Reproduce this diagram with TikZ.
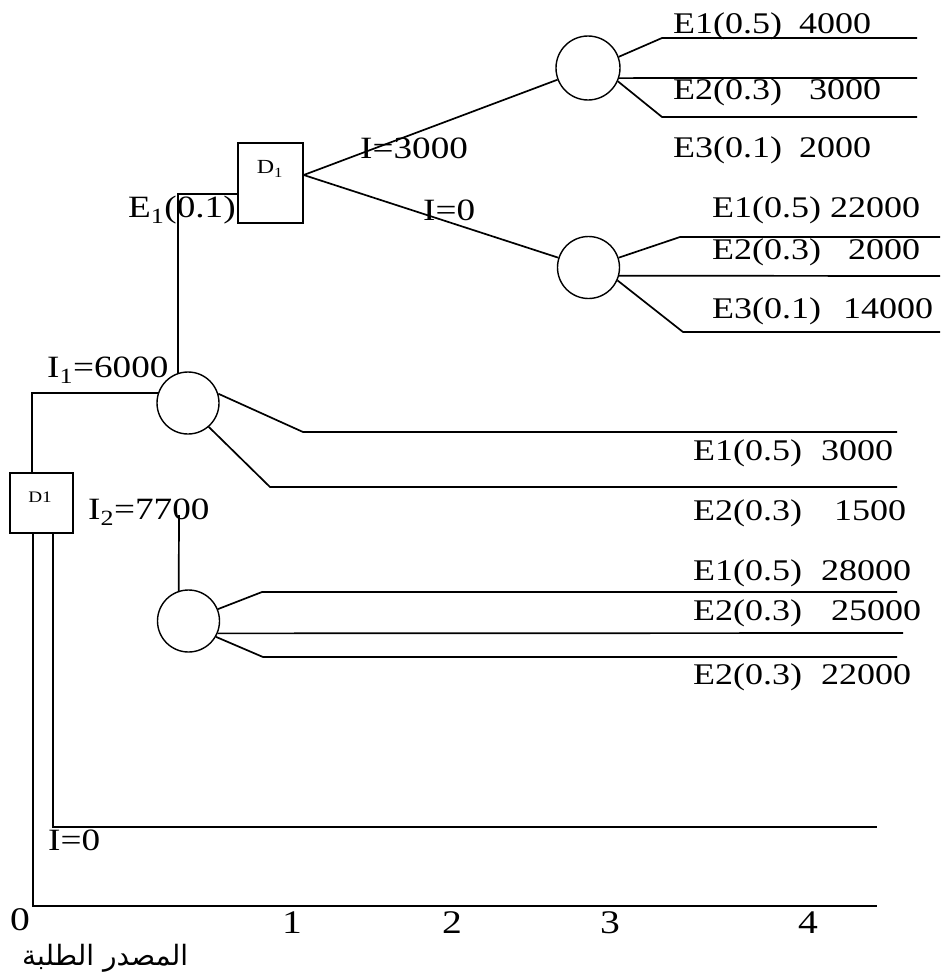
\documentclass[tikz,border=0pt]{standalone}
\usepackage{fontspec}
\setmainfont{Liberation Serif}[FakeStretch=1.2]
\newfontfamily\arabicfont[Script=Arabic]{DejaVu Sans}
\TeXXeTstate=1
\begin{document}
\begin{tikzpicture}[x=1pt,y=-1pt,
  ln/.style={line width=1.7pt},
  chance/.style={circle,draw,line width=1.4pt,minimum size=62pt,inner sep=0pt},
  decis/.style={rectangle,draw,line width=1.4pt,inner sep=0pt},
  lab/.style={inner sep=0pt,anchor=west,font=\fontsize{30}{30}\selectfont},
  ilab/.style={inner sep=0pt,anchor=west,font=\fontsize{31}{31}\selectfont},
  tick/.style={inner sep=0pt,font=\fontsize{33}{33}\selectfont},
]
\useasboundingbox (0,0) rectangle (940,977);

% decision nodes
\node[decis,minimum width=63pt,minimum height=60pt] (D1) at (41.5,503) {};
\node[inner sep=0pt,font=\fontsize{16}{16}\selectfont] (D1l) at (40,497) {D1};
\node[decis,minimum width=65pt,minimum height=80pt] (Dt) at (270.5,183) {};
\node[inner sep=0pt,font=\fontsize{20}{20}\selectfont] (Dtl) at (270,169) {D\textsubscript{1}};

% chance nodes
\node[chance] (C1) at (188,403) {};
\node[chance] (C2) at (188.5,621) {};
\node[chance,minimum size=64pt] (C3) at (588,68) {};
\node[chance] (C4) at (588.5,267.5) {};

% branch points
\coordinate (a1) at (303,432); \coordinate (a1e) at (897,432);
\coordinate (a2) at (270,487); \coordinate (a2e) at (897,487);
\coordinate (b0) at (179,515);
\coordinate (b1) at (262,592); \coordinate (b1e) at (897,592);
\coordinate (b2e) at (903,633);
\coordinate (b3) at (263,657); \coordinate (b3e) at (897,657);
\coordinate (c1) at (662,38); \coordinate (c1e) at (917,38);
\coordinate (c2e) at (917,78);
\coordinate (c3) at (662,117); \coordinate (c3e) at (917,117);
\coordinate (d1) at (680,237); \coordinate (d1e) at (940,237);
\coordinate (d2e) at (940,276);
\coordinate (d3) at (683,332); \coordinate (d3e) at (940,332);
\coordinate (z1) at (877,827); \coordinate (z0) at (877,906);

% connectors
\draw[ln] ([xshift=-9.5pt]D1.north) |- (C1.161);
\draw[ln] (C1.109) |- ([yshift=-11pt]Dt.west);
\draw[ln] ([yshift=8pt]Dt.east) -- (C3.201);
\draw[ln] ([yshift=8pt]Dt.east) -- (C4.162);
\draw[ln] (C1.17) -- (a1) -- (a1e);
\draw[ln] (C1.-49) -- (a2) -- (a2e);
\draw[ln] (b0) -- (C2.108);
\draw[ln] (C2.22) -- (b1) -- (b1e);
\draw[ln] (C2.-23) -- (b2e);
\draw[ln] (C2.-30) -- (b3) -- (b3e);
\draw[ln] (C3.20) -- (c1) -- (c1e);
\draw[ln] (C3.-18) -- (c2e);
\draw[ln] (C3.-24) -- (c3) -- (c3e);
\draw[ln] (C4.18) -- (d1) -- (d1e);
\draw[ln] (C4.-15) -- (d2e);
\draw[ln] (C4.-24) -- (d3) -- (d3e);
\draw[ln] ([xshift=-8.5pt]D1.south) |- (z0);
\draw[ln] ([xshift=11.5pt]D1.south) |- (z1);

% outcome labels
\node[lab] (t1) at (673,26) {E1(0.5)\hspace{17pt}4000};
\node[lab] (t2) at (673,92) {E2(0.3)\hspace{27pt}3000};
\node[lab] (t3) at (673,150) {E3(0.1)\hspace{17pt}2000};
\node[lab] (t4) at (712,210) {E1(0.5)\hspace{9pt}22000};
\node[lab] (t5) at (712,252) {E2(0.3)\hspace{27pt}2000};
\node[lab] (t6) at (712,311) {E3(0.1)\hspace{22pt}14000};
\node[lab] (t7) at (693,453) {E1(0.5)\hspace{19pt}3000};
\node[lab] (t8) at (693,513) {E2(0.3)\hspace{32pt}1500};
\node[lab] (t9) at (693,573) {E1(0.5)\hspace{19pt}28000};
\node[lab] (t10) at (693,613) {E2(0.3)\hspace{29pt}25000};
\node[lab] (t11) at (693,677) {E2(0.3)\hspace{19pt}22000};

% decision labels
\node[ilab] (iu) at (360,148) {I=3000};
\node[ilab] (id) at (423,210) {I=0};
\node[ilab] (e1) at (128,210) {E\textsubscript{1}(0.1)};
\node[ilab] (i1) at (47,370) {I\textsubscript{1}=6000};
\node[ilab] (i2) at (88,512) {I\textsubscript{2}=7700};
\node[ilab] (i0) at (48,840) {I=0};

% axis ticks
\node[tick] (x0) at (20,920) {0};
\node[tick] (x1) at (292,923) {1};
\node[tick] (x2) at (452,923) {2};
\node[tick] (x3) at (610,923) {3};
\node[tick] (x4) at (808,923) {4};

\node[inner sep=0pt,anchor=west,font={\fontsize{28}{28}\arabicfont}] (src) at (22,958) {\beginR المصدر الطلبة\endR};
\end{tikzpicture}
\end{document}
